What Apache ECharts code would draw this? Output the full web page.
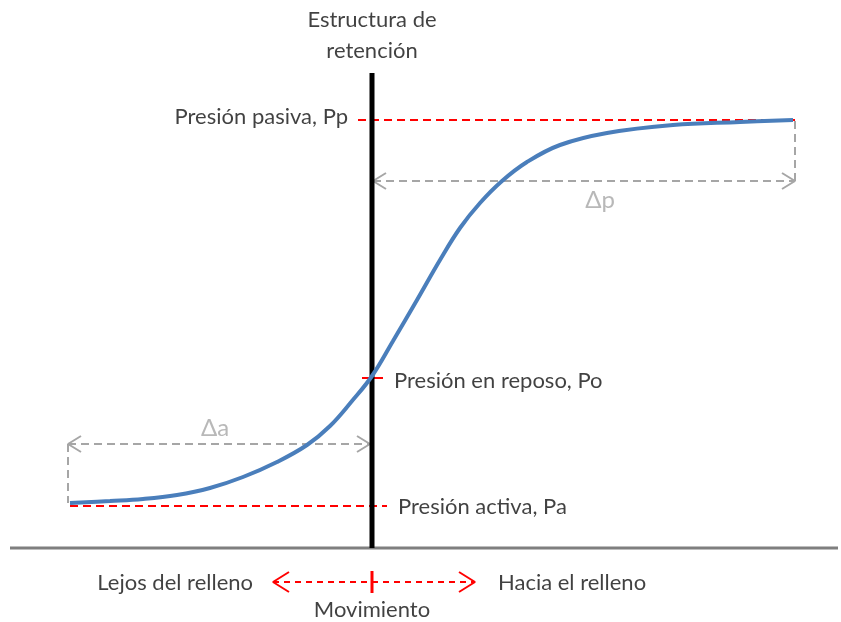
<!DOCTYPE html>
<html>
<head>
<meta charset="utf-8">
<script src="https://cdn.jsdelivr.net/npm/echarts@6/dist/echarts.min.js"></script>
<style>
  html, body { margin: 0; background: #fff; }
  #chart { width: 841px; height: 622px; }
</style>
</head>
<body>
<div id="chart"></div>
<script>
// desplazamiento (0 = muro) y presión (0 = terreno)
const curveX = [-302, -262, -229, -195, -162, -129, -95, -65, -42, -20, 0, 21, 45, 68, 88, 108, 130, 155, 188, 235, 301, 368, 421];
const curveY = [45, 47, 49, 53, 60, 71, 86, 103, 122, 147, 172, 207, 248, 288, 320, 345, 367, 386, 403, 415, 423, 426, 428];

const pActiva = 42;
const pReposo = 170;
const pPasiva = 428;
const wallTop = 475;
const groundSpan = [-362, 466];
const activaSpan = [-302, 15];
const pasivaSpan = [-14, 423];
const reposoSpan = [-10, 11];

const deltaASpan = [-304, -2];
const deltaAY = 104;
const deltaPSpan = [1, 423];
const deltaPY = 367;
const moveSpan = [-99, 103];
const moveY = -34;
const moveTick = [-23, -45];

const labelTexts = ['Estructura de', 'retención', 'Presión pasiva, Pp', 'Presión en reposo, Po', 'Presión activa, Pa', 'Lejos del relleno', 'Hacia el relleno', 'Movimiento'];
const labelX = [0, 0, -24, 22, 26, -119, 126, 0];
const labelY = [528, 497, 431, 167, 41, -35, -35, -62];
const labelPos = ['inside', 'inside', 'left', 'right', 'right', 'left', 'right', 'inside'];

const deltaTexts = ['Δa', 'Δp'];
const deltaX = [-157, 228];
const deltaY = [120, 348];

const RED = '#ff0000';
const GRAY = '#a6a6a6';
const FONT = 'Lato';

function seg(points, color, width, dash, z) {
  return {
    type: 'line',
    data: points,
    symbol: 'none',
    silent: true,
    z: z || 2,
    lineStyle: { color: color, width: width, type: dash ? dash : 'solid' }
  };
}

// cabeza de flecha abierta: dir = 1 apunta a la derecha, -1 a la izquierda
function head(tipX, tipY, dir, len, half, color, width) {
  return seg([[tipX - dir * len, tipY + half], [tipX, tipY], [tipX - dir * len, tipY - half]], color, width, null, 3);
}

const chart = echarts.init(document.getElementById('chart'));

const series = [
  seg(groundSpan.map(x => [x, 0]), '#7f7f7f', 3),
  seg(activaSpan.map(x => [x, pActiva]), RED, 2, [8, 5]),
  seg(pasivaSpan.map(x => [x, pPasiva]), RED, 2, [8, 5]),
  seg(reposoSpan.map(x => [x, pReposo]), RED, 2),

  // Δa
  seg(deltaASpan.map(x => [x, deltaAY]), GRAY, 2, [8, 5]),
  seg([[deltaASpan[0], deltaAY], [deltaASpan[0], curveY[0]]], GRAY, 2, [8, 5]),
  head(deltaASpan[0], deltaAY, -1, 13, 8, GRAY, 2),
  head(deltaASpan[1], deltaAY, 1, 13, 8, GRAY, 2),

  // Δp
  seg(deltaPSpan.map(x => [x, deltaPY]), GRAY, 2, [8, 5]),
  seg([[deltaPSpan[1], deltaPY], [deltaPSpan[1], pPasiva]], GRAY, 2, [8, 5]),
  head(deltaPSpan[0], deltaPY, -1, 13, 8, GRAY, 2),
  head(deltaPSpan[1], deltaPY, 1, 13, 8, GRAY, 2),

  // movimiento
  seg(moveSpan.map(x => [x, moveY]), RED, 2, [6, 5]),
  head(moveSpan[0], moveY, -1, 16, 10, RED, 2),
  head(moveSpan[1], moveY, 1, 16, 10, RED, 2),
  seg(moveTick.map(y => [0, y]), RED, 3),

  // muro
  seg([[0, 0], [0, wallTop]], '#000000', 5, null, 4),

  {
    type: 'line',
    data: curveX.map((x, i) => [x, curveY[i]]),
    smooth: 0.4,
    symbol: 'none',
    silent: true,
    z: 5,
    lineStyle: { color: '#4a7ebb', width: 4 }
  },
  {
    type: 'scatter',
    symbolSize: 0,
    silent: true,
    z: 6,
    data: labelTexts.map((t, i) => ({
      name: t,
      value: [labelX[i], labelY[i]],
      label: { position: labelPos[i] }
    })),
    label: {
      show: true,
      distance: 0,
      formatter: p => p.name,
      color: '#111',
      fontSize: 22,
      fontFamily: FONT
    }
  },
  {
    type: 'scatter',
    symbolSize: 0,
    silent: true,
    z: 6,
    data: deltaTexts.map((t, i) => ({ name: t, value: [deltaX[i], deltaY[i]] })),
    label: {
      show: true,
      position: 'inside',
      formatter: p => p.name,
      color: GRAY,
      fontSize: 24,
      fontFamily: FONT
    }
  }
];

chart.setOption({
  animation: false,
  backgroundColor: '#ffffff',
  grid: { left: 0, right: 0, top: 0, bottom: 0 },
  xAxis: { type: 'value', min: -372, max: 469, show: false },
  yAxis: { type: 'value', min: -74, max: 548, show: false },
  series: series
});
</script>
</body>
</html>
